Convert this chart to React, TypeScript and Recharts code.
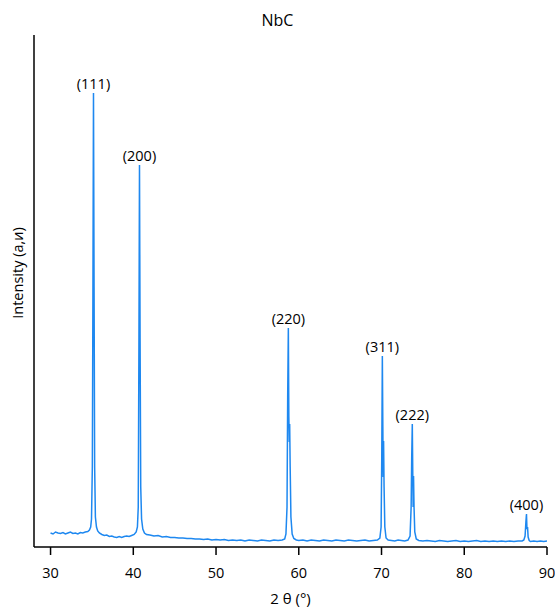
import { LineChart, Line, XAxis, YAxis, ReferenceDot } from "recharts";

// 2θ positions (degrees) and intensity (arbitrary units)
const twoTheta = [
  30.0, 30.3, 30.6, 30.9, 31.2, 31.5, 31.8, 32.1, 32.4, 32.7, 33.0, 33.3, 33.6, 33.9, 34.2, 34.5, 34.7, 34.85, 34.95,
  35.05, 35.12, 35.19, 35.26, 35.33, 35.42, 35.55, 35.7, 35.9, 36.2, 36.5, 36.8, 37.1, 37.4, 37.7, 38.0, 38.3, 38.6,
  38.9, 39.2, 39.5, 39.8, 40.1, 40.35, 40.5, 40.6, 40.68, 40.75, 40.82, 40.9, 41.0, 41.15, 41.35, 41.6, 42.0, 42.5,
  43.0, 43.5, 44.0, 44.5, 45.0, 45.5, 46.0, 46.5, 47.0, 47.5, 48.0, 48.5, 49.0, 49.5, 50.0, 50.5, 51.0, 51.5, 52.0,
  52.5, 53.0, 53.5, 54.0, 54.5, 55.0, 55.5, 56.0, 56.5, 57.0, 57.5, 58.0, 58.3, 58.45, 58.58, 58.66, 58.74, 58.8,
  58.85, 58.9, 58.96, 59.05, 59.2, 59.4, 59.7, 60.0, 60.5, 61.0, 61.5, 62.0, 62.5, 63.0, 63.5, 64.0, 64.5, 65.0, 65.5,
  66.0, 66.5, 67.0, 67.5, 68.0, 68.5, 69.0, 69.5, 69.8, 69.95, 70.03, 70.1, 70.16, 70.2, 70.25, 70.31, 70.4, 70.55,
  70.8, 71.2, 71.6, 72.0, 72.4, 72.8, 73.2, 73.45, 73.58, 73.65, 73.72, 73.78, 73.82, 73.87, 73.93, 74.02, 74.2, 74.5,
  75.0, 75.5, 76.0, 76.5, 77.0, 77.5, 78.0, 78.5, 79.0, 79.5, 80.0, 80.5, 81.0, 81.5, 82.0, 82.5, 83.0, 83.5, 84.0,
  84.5, 85.0, 85.5, 86.0, 86.5, 87.0, 87.2, 87.35, 87.45, 87.52, 87.58, 87.65, 87.72, 87.85, 88.0, 88.4, 88.8, 89.2,
  89.6, 90.0,
];
const intensity = [
  14, 13, 15, 14, 13.5, 14.5, 13, 14, 15, 13.5, 14, 13, 14.5, 14, 15, 15.5, 17, 20, 28,
  80, 250, 454, 260, 80, 30, 20, 16, 14, 12.5, 11.5, 12, 10.5, 11, 10, 9.5, 10.5, 9.5,
  10.5, 11, 10.5, 11.5, 12.5, 15, 20, 40, 200, 382, 210, 60, 28, 18, 14, 12.5, 12, 11,
  11.5, 10, 10.5, 9.5, 9.5, 9, 9, 8.5, 8.5, 8, 8, 7.5, 8, 7, 7.5, 7, 7.5, 6.5, 7,
  6.5, 7, 6, 7, 6.5, 6, 7, 6.5, 6, 7, 6.5, 7, 8, 13, 40, 150, 219, 130,
  105, 123, 80, 30, 13, 8.5, 7, 6.5, 7, 6, 7, 6.5, 6, 7, 6.5, 6, 7, 6.5, 6,
  7, 6.5, 6, 6.5, 7, 6, 6.5, 7, 9, 20, 90, 191, 120, 70, 106, 60, 20, 9,
  7, 6.5, 6, 7, 6.5, 6, 7, 11, 40, 90, 123, 70, 40, 71, 40, 15, 8, 6.5,
  6, 6.5, 6, 5.5, 6.5, 6, 5.5, 6, 6.5, 5.5, 6, 5.5, 6, 6.5, 5.5, 6, 5.5, 6, 5.5,
  6, 5.5, 6, 5.5, 6, 6, 7, 11, 25, 33, 18, 20, 10, 6.5, 5.5, 6, 5.5, 6,
  5.5, 6,
];

// Miller indices and their peak positions
const peakLabels = ["(111)", "(200)", "(220)", "(311)", "(222)", "(400)"];
const peakTheta = [35.19, 40.75, 58.74, 70.1, 73.72, 87.52];
const peakHeight = [454, 382, 219, 191, 123, 33];

const xTicks = [30, 40, 50, 60, 70, 80, 90];

const data = twoTheta.map((t, i) => ({ t, v: intensity[i] }));

const FONT = "'Open Sans', sans-serif";

const YLabel = (props: any) => {
  const vb = props.viewBox;
  const cx = 17;
  const cy = vb.y + vb.height / 2 - 18;
  return (
    <text
      x={cx}
      y={cy}
      transform={`rotate(-90, ${cx}, ${cy})`}
      textAnchor="middle"
      dominantBaseline="central"
      fontSize={14.5}
      fontFamily={FONT}
      fill="#000"
    >
      Intensity (a,и)
    </text>
  );
};

export default function App() {
  return (
    <div style={{ position: "absolute", left: 0, top: 0, width: 555, height: 607, background: "#fff" }}>
      <div
        style={{
          position: "absolute",
          top: 9,
          left: 0,
          width: 555,
          textAlign: "center",
          fontFamily: FONT,
          fontSize: 16,
          color: "#000",
        }}
      >
        NbC
      </div>
      <LineChart width={555} height={607} data={data} margin={{ top: 35, right: 8, bottom: 0, left: 0 }}>
        <XAxis
          dataKey="t"
          type="number"
          domain={[28, 90]}
          ticks={xTicks}
          allowDataOverflow
          height={60}
          tickSize={8}
          stroke="#000"
          axisLine={{ stroke: "#000", strokeWidth: 1.5 }}
          tickLine={{ stroke: "#000", strokeWidth: 1.5 }}
          tick={{ fill: "#000", fontSize: 14.5, fontFamily: FONT }}
          tickMargin={13}
          label={{ value: "2 θ (°)", position: "insideBottom", offset: 3, fill: "#000", fontSize: 15, fontFamily: FONT }}
        />
        <YAxis
          type="number"
          domain={[0, 512]}
          allowDataOverflow
          width={34}
          tick={false}
          tickLine={false}
          axisLine={{ stroke: "#000", strokeWidth: 1.5 }}
          label={<YLabel />}
        />
        <Line
          dataKey="v"
          type="linear"
          stroke="#1E88F0"
          strokeWidth={1.5}
          dot={false}
          isAnimationActive={false}
        />
        {peakLabels.map((lab, i) => (
          <ReferenceDot
            key={lab}
            x={peakTheta[i]}
            y={peakHeight[i]}
            r={0}
            fill="none"
            stroke="none"
            label={{ value: lab, position: "top", offset: 4, fill: "#000", fontSize: 14.5, fontFamily: FONT }}
          />
        ))}
      </LineChart>
    </div>
  );
}
